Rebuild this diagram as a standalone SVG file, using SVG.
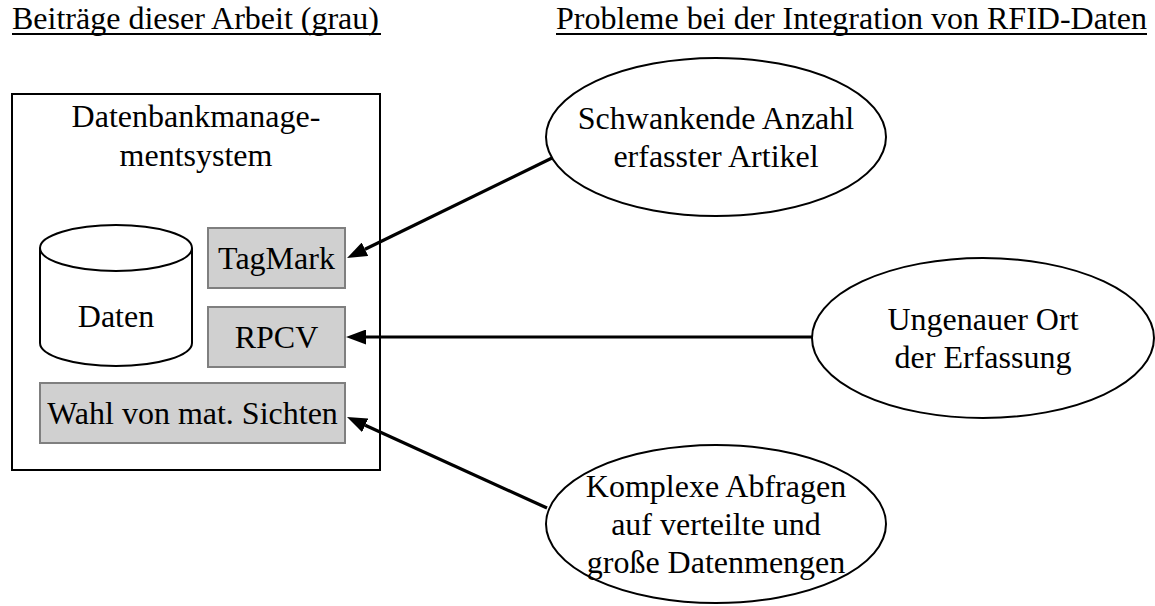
<svg xmlns="http://www.w3.org/2000/svg" width="1155" height="606" viewBox="0 0 1155 606">
<style>
text{font-family:"Liberation Serif","Times New Roman",serif;font-size:32px;fill:#000}
.mid{text-anchor:middle}
.box{fill:#d0d0d0;stroke:#7f7f7f;stroke-width:2}
.frame{fill:#fff;stroke:#000;stroke-width:2}
.ell{fill:#fff;stroke:#000;stroke-width:2}
.con{stroke:#000;stroke-width:3.2;fill:none;marker-end:url(#ah)}
.ul{stroke:#000;stroke-width:1.8}
</style>
<defs>
<marker id="ah" markerWidth="20" markerHeight="15" refX="0" refY="7.5" orient="auto" markerUnits="userSpaceOnUse" viewBox="0 0 20 15">
<path d="M0,0 L20,7.5 L0,15 z" fill="#000"/>
</marker>
</defs>
<rect width="1155" height="606" fill="#fff"/>
<g id="title-left">
<text x="12" y="29">Beiträge dieser Arbeit (grau)</text>
<line class="ul" x1="12" y1="34" x2="381" y2="34"/>
</g>
<g id="title-right">
<text x="556" y="29">Probleme bei der Integration von RFID-Daten</text>
<line class="ul" x1="556" y1="34" x2="1147" y2="34"/>
</g>
<g id="dbms">
<rect class="frame" x="12" y="94" width="368" height="376"/>
<text class="mid" x="196" y="127">Datenbankmanage-</text>
<text class="mid" x="196" y="166">mentsystem</text>
</g>
<g id="daten">
<path d="M40,248 L40,343 A76,23 0 0 0 192,343 L192,248" fill="#fff" stroke="#000" stroke-width="2"/>
<ellipse cx="116" cy="248" rx="76" ry="23" fill="#fff" stroke="#000" stroke-width="2"/>
<text class="mid" x="116" y="327">Daten</text>
</g>
<g id="tagmark">
<rect class="box" x="208" y="228" width="137" height="60"/>
<text class="mid" x="276.5" y="269">TagMark</text>
</g>
<g id="rpcv">
<rect class="box" x="208" y="307" width="137" height="60"/>
<text class="mid" x="276.5" y="348">RPCV</text>
</g>
<g id="wahl">
<rect class="box" x="40" y="383" width="305" height="60"/>
<text class="mid" x="192.5" y="424">Wahl von mat. Sichten</text>
</g>
<g id="schwankend">
<ellipse class="ell" cx="716" cy="137" rx="170" ry="79"/>
<text class="mid" x="716" y="129">Schwankende Anzahl</text>
<text class="mid" x="716" y="167">erfasster Artikel</text>
</g>
<g id="ungenau">
<ellipse class="ell" cx="983" cy="338" rx="171" ry="80"/>
<text class="mid" x="983" y="330">Ungenauer Ort</text>
<text class="mid" x="983" y="368">der Erfassung</text>
</g>
<g id="komplex">
<ellipse class="ell" cx="716" cy="524" rx="170" ry="79"/>
<text class="mid" x="716" y="497">Komplexe Abfragen</text>
<text class="mid" x="716" y="535">auf verteilte und</text>
<text class="mid" x="716" y="573">große Datenmengen</text>
</g>
<g id="connectors">
<line class="con" x1="552" y1="158" x2="365" y2="249.3"/>
<line class="con" x1="812" y1="337" x2="366" y2="337"/>
<line class="con" x1="547" y1="508" x2="365.2" y2="425.3"/>
</g>
</svg>
